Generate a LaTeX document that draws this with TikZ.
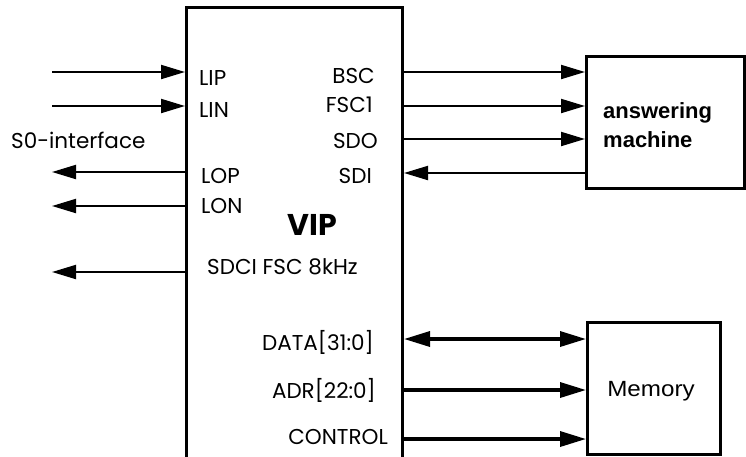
\documentclass[tikz,border=0pt]{standalone}
\usepackage{fontspec}
\setmainfont{Poppins}
\newfontfamily\arialf[FakeStretch=1.1]{Liberation Sans}
\newfontfamily\arialb{Liberation Sans}
\usetikzlibrary{arrows.meta}
\tikzset{
  boxn/.style={draw, line width=3pt, inner sep=0pt},
  sig/.style={line width=2pt, -{Triangle[length=24pt,width=14pt]}},
  bus/.style={line width=3.4pt, line cap=round, -{Triangle[length=26pt,width=15pt]}},
  busboth/.style={line width=3.4pt, {Triangle[length=26pt,width=15pt]}-{Triangle[length=26pt,width=15pt]}},
  lbl/.style={font=\fontsize{21.5}{24}\selectfont, inner sep=0pt},
  lblL/.style={lbl, anchor=base west},
  lblR/.style={lbl, anchor=base east},
  amtxt/.style={font=\arialb\bfseries\fontsize{22}{29}\selectfont, inner sep=0pt},
  memtxtst/.style={font=\arialf\fontsize{22}{29}\selectfont, inner sep=0pt}
}
\begin{document}
\begin{tikzpicture}[x=1pt,y=-1pt]
\useasboundingbox (0,0) rectangle (746,456);
\clip (0,0) rectangle (746,456);
% boxes
\node[boxn, minimum width=216pt, minimum height=492pt] (vip) at (294.5,253.5) {};
\node[boxn, minimum width=158pt, minimum height=132pt] (am) at (665.5,122.5) {};
\node[boxn, minimum width=133pt, minimum height=131.5pt] (mem) at (654,388.25) {};
% box texts
\node[font=\bfseries\fontsize{30}{34}\selectfont, inner sep=0pt, anchor=base] (viptxt) at (312,235) {VIP};
\node[amtxt, anchor=base west] (amtxt1) at (603,118) {answering};
\node[amtxt, anchor=base west] (amtxt2) at (603,147) {machine};
\node[memtxtst, anchor=base] (memtxt) at (651,396) {Memory};
% free ends on the left
\coordinate (lipin) at (52,72);
\coordinate (linin) at (52,106);
\coordinate (lopout) at (52,172);
\coordinate (lonout) at (52,206);
\coordinate (sdciout) at (52,272);
% left connectors
\draw[sig] (lipin) -- (vip.west |- lipin);
\draw[sig] (linin) -- (vip.west |- linin);
\draw[sig] (vip.west |- lopout) -- (lopout);
\draw[sig] (vip.west |- lonout) -- (lonout);
\draw[sig] (vip.west |- sdciout) -- (sdciout);
% right connectors
\draw[sig] (vip.east |- 0,72) -- (am.west |- 0,72);
\draw[sig] (vip.east |- 0,106) -- (am.west |- 0,106);
\draw[sig] (vip.east |- 0,139) -- (am.west |- 0,139);
\draw[sig] (am.west |- 0,173) -- (vip.east |- 0,173);
\draw[busboth] (vip.east |- 0,339) -- (mem.west |- 0,339);
\draw[bus] (vip.east |- 0,390) -- (mem.west |- 0,390);
\draw[bus] (vip.east |- 0,439) -- (mem.west |- 0,439);
% labels
\node[lbl, anchor=base west] (s0) at (11,148) {S0-interface};
\node[lblL] (lip) at (199,85) {LIP};
\node[lblL] (lin) at (199,117) {LIN};
\node[lblL] (lop) at (201,183) {LOP};
\node[lblL] (lon) at (201,213) {LON};
\node[lblL] (sdci) at (207,274) {SDCI FSC 8kHz};
\node[lblR] (bsc) at (375,83) {BSC};
\node[lblR] (fsc1) at (373,112) {FSC1};
\node[lblR] (sdo) at (378,148) {SDO};
\node[lblR] (sdi) at (372,183) {SDI};
\node[lblR] (data) at (374,350) {DATA[31:0]};
\node[lblR] (adr) at (376,398) {ADR[22:0]};
\node[lblR] (ctrl) at (388,444) {CONTROL};
\end{tikzpicture}
\end{document}
